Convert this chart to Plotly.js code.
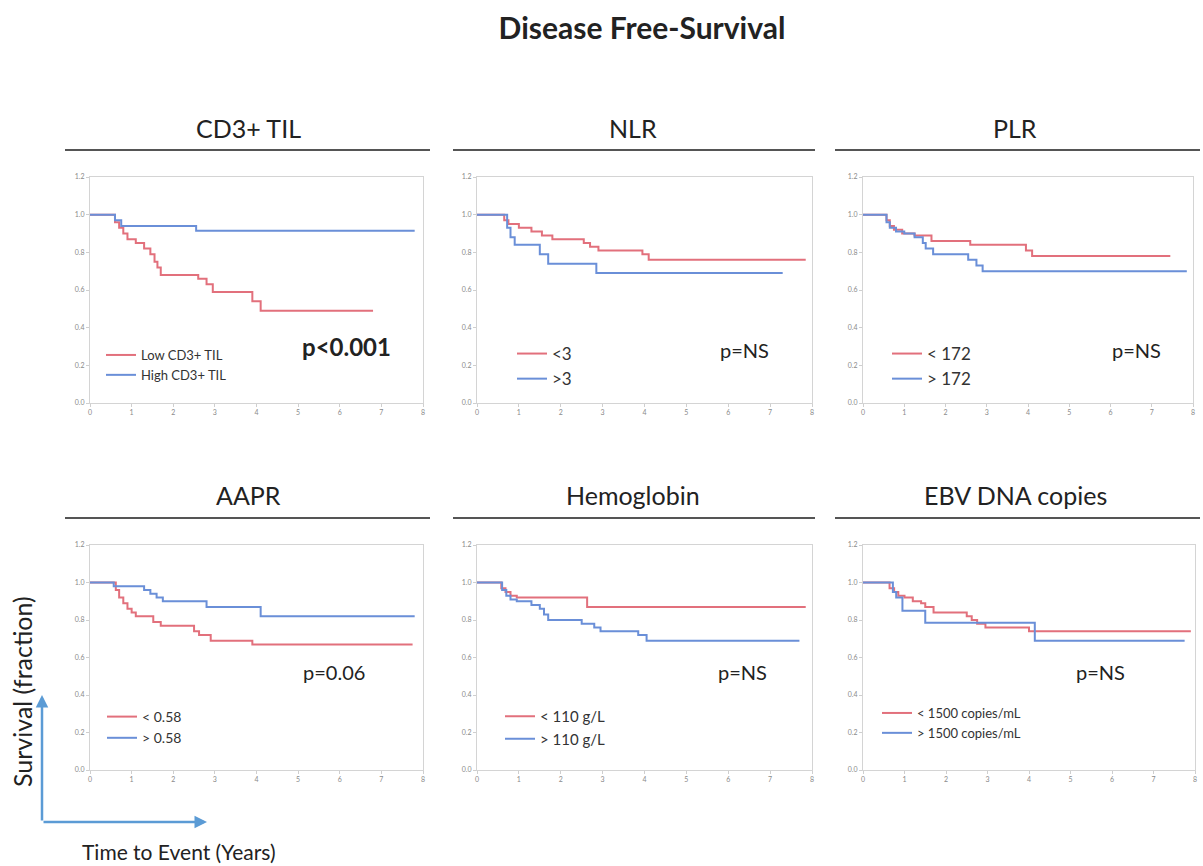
<!DOCTYPE html>
<html>
<head>
<meta charset="utf-8">
<script src="https://cdn.plot.ly/plotly-3.0.1.min.js"></script>
<style>html,body{margin:0;padding:0;background:#fff}#chart{width:1203px;height:866px}</style>
</head>
<body>
<div id="chart"></div>
<script>
// ---- data (time in years, survival fraction), step points ----
const cd3LowT  = [0, 0.6, 0.7, 0.8, 0.9, 1.1, 1.3, 1.45, 1.55, 1.62, 1.7, 2.6, 2.8, 2.95, 3.9, 4.1, 6.8];
const cd3LowS  = [1, 0.96, 0.93, 0.90, 0.87, 0.85, 0.82, 0.79, 0.75, 0.72, 0.68, 0.66, 0.63, 0.59, 0.54, 0.49, 0.49];
const cd3HighT = [0, 0.6, 0.75, 2.55, 7.8];
const cd3HighS = [1, 0.97, 0.94, 0.915, 0.915];

const nlrLowT  = [0, 0.65, 0.75, 1.0, 1.3, 1.55, 1.8, 2.55, 2.7, 2.9, 3.95, 4.1, 7.85];
const nlrLowS  = [1, 0.97, 0.95, 0.93, 0.91, 0.89, 0.87, 0.85, 0.83, 0.81, 0.79, 0.76, 0.76];
const nlrHighT = [0, 0.72, 0.8, 0.9, 1.5, 1.7, 2.85, 7.3];
const nlrHighS = [1, 0.93, 0.88, 0.84, 0.79, 0.74, 0.69, 0.69];

const plrLowT  = [0, 0.57, 0.65, 0.75, 0.95, 1.25, 1.66, 2.6, 3.95, 4.1, 7.45];
const plrLowS  = [1, 0.97, 0.94, 0.92, 0.90, 0.89, 0.86, 0.84, 0.81, 0.78, 0.78];
const plrHighT = [0, 0.57, 0.65, 0.8, 1.0, 1.25, 1.45, 1.52, 1.7, 2.55, 2.75, 2.9, 7.85];
const plrHighS = [1, 0.96, 0.93, 0.91, 0.90, 0.88, 0.85, 0.82, 0.79, 0.76, 0.73, 0.70, 0.70];

const aaprLowT  = [0, 0.62, 0.7, 0.8, 0.9, 1.0, 1.1, 1.52, 1.7, 2.5, 2.62, 2.9, 3.9, 7.75];
const aaprLowS  = [1, 0.96, 0.92, 0.89, 0.86, 0.84, 0.82, 0.79, 0.77, 0.74, 0.72, 0.69, 0.67, 0.67];
const aaprHighT = [0, 0.57, 1.3, 1.45, 1.6, 1.75, 2.8, 4.1, 7.8];
const aaprHighS = [1, 0.98, 0.96, 0.94, 0.92, 0.90, 0.87, 0.82, 0.82];

const hbLowT  = [0, 0.58, 0.68, 0.8, 0.95, 2.63, 7.85];
const hbLowS  = [1, 0.97, 0.95, 0.93, 0.92, 0.87, 0.87];
const hbHighT = [0, 0.6, 0.7, 0.8, 0.95, 1.3, 1.5, 1.6, 1.7, 2.5, 2.8, 2.95, 3.85, 4.05, 7.7];
const hbHighS = [1, 0.96, 0.93, 0.91, 0.90, 0.88, 0.86, 0.83, 0.80, 0.78, 0.76, 0.74, 0.72, 0.69, 0.69];

const ebvLowT  = [0, 0.64, 0.75, 0.85, 1.0, 1.2, 1.4, 1.5, 1.7, 2.5, 2.62, 2.75, 2.95, 4.0, 7.9];
const ebvLowS  = [1, 0.97, 0.95, 0.93, 0.92, 0.90, 0.89, 0.87, 0.84, 0.82, 0.80, 0.78, 0.76, 0.74, 0.74];
const ebvHighT = [0, 0.72, 0.8, 0.95, 1.5, 4.14, 7.75];
const ebvHighS = [1, 0.95, 0.92, 0.85, 0.785, 0.69, 0.69];

const panelTitles = ["CD3+ TIL", "NLR", "PLR", "AAPR", "Hemoglobin", "EBV DNA copies"];
const lowLabels  = ["Low CD3+ TIL", "<3", "< 172", "< 0.58", "< 110 g/L", "< 1500 copies/mL"];
const highLabels = ["High CD3+ TIL", ">3", "> 172", "> 0.58", "> 110 g/L", "> 1500 copies/mL"];
const pLabels = ["p<0.001", "p=NS", "p=NS", "p=0.06", "p=NS", "p=NS"];
const xTicks = [0, 1, 2, 3, 4, 5, 6, 7, 8];
const yTicks = [0, 0.2, 0.4, 0.6, 0.8, 1.0, 1.2];

const series = [
  [cd3LowT, cd3LowS, cd3HighT, cd3HighS],
  [nlrLowT, nlrLowS, nlrHighT, nlrHighS],
  [plrLowT, plrLowS, plrHighT, plrHighS],
  [aaprLowT, aaprLowS, aaprHighT, aaprHighS],
  [hbLowT, hbLowS, hbHighT, hbHighS],
  [ebvLowT, ebvLowS, ebvHighT, ebvHighS]
];

// ---- layout geometry (pixels) ----
const W = 1203, H = 866;
const px = v => v / W, py = v => 1 - v / H;
const plotX = [[90, 423], [477, 812], [863, 1193], [90, 423], [477, 812], [863, 1195]];
const plotY = [[177, 403], [177, 403], [177, 403], [545, 770], [545, 770], [545, 770]];
const titleCx = [248, 633, 1015, 248, 633, 1015];
const titleY = [128, 128, 128, 495, 495, 495];
const ruleX = [[65, 430], [453, 815], [835, 1200], [65, 430], [453, 815], [835, 1200]];
const ruleY = [150, 150, 150, 518, 518, 518];
const pPos = [[346, 347], [744, 350], [1136, 350], [334, 672], [742, 672], [1100, 672]];
const pSize = [24, 20, 20, 20, 20, 20];
const pBold = [true, false, false, false, false, false];
const legPos = [[101, 340], [512, 336], [887, 336], [102, 701], [500, 700], [877, 698]];
const legFont = [13, 17, 17, 14, 15, 13];

const red = '#e2707c', blue = '#6a8fd8';
const data = [];
const layout = {
  width: W, height: H,
  margin: {l: 0, r: 0, t: 0, b: 0},
  paper_bgcolor: '#fff', plot_bgcolor: '#fff',
  font: {family: 'Lato, "Open Sans", sans-serif', color: '#222'},
  title: {text: '<b>Disease Free-Survival</b>', x: 642 / W, xanchor: 'center', y: 1 - 28 / H, yanchor: 'middle',
          yref: 'container', xref: 'container', font: {size: 30, color: '#222'}},
  annotations: [], shapes: []
};

for (let i = 0; i < 6; i++) {
  const ax = i === 0 ? '' : String(i + 1);
  const lg = i === 0 ? 'legend' : 'legend' + (i + 1);
  const [lt, ls, ht, hs] = series[i];
  data.push({x: lt, y: ls, type: 'scatter', mode: 'lines', line: {shape: 'hv', color: red, width: 2},
             name: lowLabels[i], xaxis: 'x' + ax, yaxis: 'y' + ax, legend: lg, hoverinfo: 'skip'});
  data.push({x: ht, y: hs, type: 'scatter', mode: 'lines', line: {shape: 'hv', color: blue, width: 2},
             name: highLabels[i], xaxis: 'x' + ax, yaxis: 'y' + ax, legend: lg, hoverinfo: 'skip'});

  const axisCommon = {showgrid: false, zeroline: false, showline: true, mirror: true, linecolor: '#d4d4d4', linewidth: 1,
                      ticks: 'outside', ticklen: 3, tickcolor: '#cfcfcf', tickfont: {size: 7, color: '#8a8a8a'}, fixedrange: true};
  layout['xaxis' + ax] = Object.assign({}, axisCommon, {
    domain: [px(plotX[i][0]), px(plotX[i][1])], range: [0, 8], tickvals: xTicks, anchor: 'y' + ax
  });
  layout['yaxis' + ax] = Object.assign({}, axisCommon, {
    domain: [py(plotY[i][1]), py(plotY[i][0])], range: [0, 1.2], tickvals: yTicks, tickformat: '.1f', anchor: 'x' + ax
  });

  layout[lg] = {x: px(legPos[i][0]), y: py(legPos[i][1]), xanchor: 'left', yanchor: 'top', bgcolor: 'rgba(0,0,0,0)',
                font: {size: legFont[i], color: '#333'}, tracegroupgap: 0, itemclick: false};

  layout.annotations.push({text: panelTitles[i], xref: 'paper', yref: 'paper', x: px(titleCx[i]), y: py(titleY[i]),
                           xanchor: 'center', yanchor: 'middle', showarrow: false, font: {size: 25, color: '#222'}});
  layout.annotations.push({text: pBold[i] ? '<b>' + pLabels[i] + '</b>' : pLabels[i], xref: 'paper', yref: 'paper',
                           x: px(pPos[i][0]), y: py(pPos[i][1]), xanchor: 'center', yanchor: 'middle', showarrow: false,
                           font: {size: pSize[i], color: '#222'}});
  layout.shapes.push({type: 'line', xref: 'paper', yref: 'paper', x0: px(ruleX[i][0]), x1: px(ruleX[i][1]),
                      y0: py(ruleY[i]), y1: py(ruleY[i]), line: {color: '#555', width: 2}});
}

// axis label text and arrows
layout.annotations.push({text: 'Survival (fraction)', xref: 'paper', yref: 'paper', x: px(22), y: py(692), textangle: -90,
                         xanchor: 'center', yanchor: 'middle', showarrow: false, font: {size: 25, color: '#222'}});
layout.annotations.push({text: 'Time to Event (Years)', xref: 'paper', yref: 'paper', x: px(179), y: py(851),
                         xanchor: 'center', yanchor: 'middle', showarrow: false, font: {size: 21, color: '#222'}});
layout.annotations.push({text: '', xref: 'paper', yref: 'paper', x: px(42), y: py(695), axref: 'pixel', ayref: 'pixel',
                         ax: 0, ay: 127, showarrow: true, arrowhead: 2, arrowsize: 1, arrowwidth: 2.5, arrowcolor: '#5b9bd5'});
layout.annotations.push({text: '', xref: 'paper', yref: 'paper', x: px(207), y: py(822), axref: 'pixel', ayref: 'pixel',
                         ax: -165, ay: 0, showarrow: true, arrowhead: 2, arrowsize: 1, arrowwidth: 2.5, arrowcolor: '#5b9bd5'});

Plotly.newPlot('chart', data, layout, {displayModeBar: false, staticPlot: true});
</script>
</body>
</html>
